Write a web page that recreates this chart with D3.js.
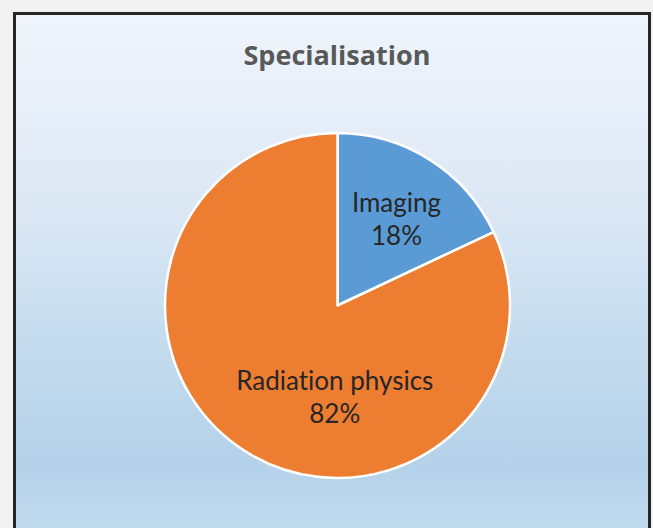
<!DOCTYPE html>
<html><head><meta charset="utf-8">
<script src="https://cdn.jsdelivr.net/npm/d3@7"></script>
<style>html,body{margin:0;padding:0;background:#f2f2f2;overflow:hidden}
text{font-variant-ligatures:none;font-feature-settings:"liga" 0}</style>
</head><body>
<script>
const categories = ["Imaging", "Radiation physics"];
const values = [18, 82];
const labels = ["18%", "82%"];
const colors = ["#5b9bd5", "#ed7d31"];
const title = "Specialisation";

const W = 653, H = 528;
const FONT = "Lato, 'Open Sans', sans-serif";
const svg = d3.select("body").append("svg").attr("width", W).attr("height", H);
const defs = svg.append("defs");
const grad = defs.append("linearGradient").attr("id", "bg").attr("x1", 0).attr("y1", 0).attr("x2", 0).attr("y2", 1);
[[0, "#f0f5fc"], [0.35, "#dde8f5"], [0.6, "#c6ddef"], [0.85, "#b4d1e9"], [1, "#c4ddf0"]]
  .forEach(([o, c]) => grad.append("stop").attr("offset", o).attr("stop-color", c));

svg.append("rect").attr("x", 14.5).attr("y", 13.5).attr("width", 635).attr("height", 530)
  .attr("fill", "url(#bg)").attr("stroke", "#262626").attr("stroke-width", 3);

svg.append("text").attr("x", 337).attr("y", 65).attr("text-anchor", "middle")
  .attr("font-family", "'Open Sans', sans-serif").attr("font-weight", "bold").attr("font-size", 27)
  .attr("fill", "#595959").text(title);

const cx = 337.5, cy = 305.5, R = 172.5;
const g = svg.append("g").attr("transform", `translate(${cx},${cy})`);
const pie = d3.pie().sort(null).value(d => d)(values);
const arc = d3.arc().innerRadius(0).outerRadius(R);
g.selectAll("path").data(pie).join("path")
  .attr("d", arc).attr("fill", (d, i) => colors[i])
  .attr("stroke", "#ffffff").attr("stroke-width", 2.5).attr("stroke-linejoin", "round");

// label anchors: small slice near centroid, large slice below centre
const labelPos = pie.map((d, i) => {
  if (i === 0) {
    const a = (d.startAngle + d.endAngle) / 2 + 0.035;
    return d3.pointRadial(a, R * 0.605);
  }
  return d3.pointRadial(Math.PI + 0.03, R * 0.53);
});
const lg = g.selectAll("g.lbl").data(pie).join("g").attr("class", "lbl")
  .attr("transform", (d, i) => `translate(${labelPos[i][0]},${labelPos[i][1]})`);
lg.append("text").attr("text-anchor", "middle").attr("y", -7)
  .attr("font-family", FONT).attr("font-size", 26).attr("fill", "#262626")
  .text((d, i) => categories[i]);
lg.append("text").attr("text-anchor", "middle").attr("y", 26)
  .attr("font-family", FONT).attr("font-size", 26).attr("fill", "#262626")
  .text((d, i) => labels[i]);
</script>
</body></html>
